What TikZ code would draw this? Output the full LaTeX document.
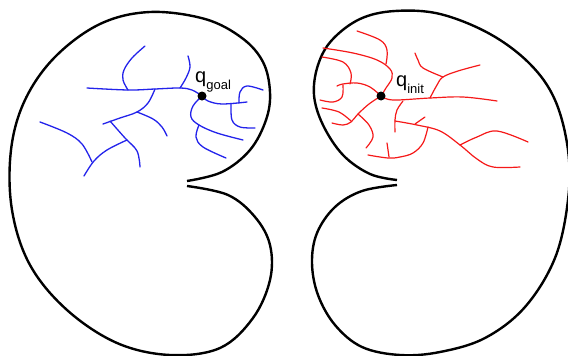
\documentclass[tikz,border=0pt]{standalone}
\usepackage{fontspec}
\setmainfont{Liberation Sans}
\definecolor{treeblue}{RGB}{35,35,235}
\definecolor{treered}{RGB}{245,25,25}
\begin{document}
\begin{tikzpicture}[x=1pt,y=-1pt,
  outline/.style={line width=2.4pt, black, line join=round},
  bluebr/.style={line width=1.3pt, treeblue, line cap=round},
  redbr/.style={line width=1.2pt, treered, line cap=round},
  qdot/.style={circle, fill=black, inner sep=0pt, minimum size=9pt},
  qlabel/.style={anchor=base west, inner sep=0pt, font=\fontsize{20}{20}\selectfont}]
\useasboundingbox (0,0) rectangle (568,356);
\clip (0,0) rectangle (568,356);
% left region
\draw[outline] plot[smooth, tension=0.6] coordinates {(187,181) (222,172) (250,150) (266,120) (270,92) (263,62) (242,38) (205,19) (150,12) (100,24) (55,57) (25,100) (11,150) (12,210) (30,265) (67,310) (117,343) (170,355) (220,348) (253,318) (270,280) (270,245) (255,217) (228,195) (187,186)};
% right region
\draw[outline] plot[smooth, tension=0.6] coordinates {(397,180) (370,174) (343,155) (323,125) (314,95) (318,65) (332,40) (360,19) (395,11) (440,14) (490,34) (530,64) (555,100) (568,150) (568,200) (555,258) (525,307) (485,338) (440,352) (400,355) (362,347) (335,325) (318,295) (312,263) (317,233) (335,207) (362,191) (397,185)};
% blue tree
\draw[bluebr] plot[smooth, tension=0.6] coordinates {(87,88) (128,90) (155,89) (180,88) (192,90) (202,96)};
\draw[bluebr] plot[smooth, tension=0.6] coordinates {(128,90) (123,80) (124,70) (132,58) (145,46)};
\draw[bluebr] plot[smooth, tension=0.6] coordinates {(180,88) (186,78) (190,67) (188,56)};
\draw[bluebr] plot[smooth, tension=0.6] coordinates {(155,89) (148,103) (137,112) (120,118) (103,124)};
\draw[bluebr] plot[smooth, tension=0.6] coordinates {(137,112) (153,119) (162,127) (167,136)};
\draw[bluebr] plot[smooth, tension=0.6] coordinates {(110,121) (125,138) (137,151) (140,167)};
\draw[bluebr] plot[smooth, tension=0.6] coordinates {(127,140) (107,150) (94,161) (84,176)};
\draw[bluebr] plot[smooth, tension=0.6] coordinates {(40,122) (67,133) (82,144) (92,162)};
\draw[bluebr] plot[smooth, tension=0.6] coordinates {(202,96) (208,101) (222,104) (247,102)};
\draw[bluebr] plot[smooth, tension=0.6] coordinates {(239,103) (240,92) (247,86) (263,90)};
\draw[bluebr] plot[smooth, tension=0.6] coordinates {(231,104) (232,120) (240,127) (255,128)};
\draw[bluebr] plot[smooth, tension=0.6] coordinates {(202,96) (193,106) (191,117) (199,125) (217,133) (243,140)};
\draw[bluebr] plot[smooth, tension=0.6] coordinates {(199,125) (196,137) (203,147) (226,158)};
% red tree
\draw[redbr] plot[smooth, tension=0.6] coordinates {(381,96) (393,100) (430,98) (463,97) (497,101)};
\draw[redbr] plot[smooth, tension=0.6] coordinates {(430,98) (437,85) (443,77) (458,71) (480,65)};
\draw[redbr] plot[smooth, tension=0.6] coordinates {(443,77) (423,68) (418,60) (415,53)};
\draw[redbr] plot[smooth, tension=0.6] coordinates {(381,96) (386,88) (392,78) (390,69) (377,60) (353,53) (323,48)};
\draw[redbr] plot[smooth, tension=0.6] coordinates {(357,31) (380,40) (387,50) (386,64)};
\draw[redbr] plot[smooth, tension=0.6] coordinates {(322,57) (343,62) (351,73) (350,84)};
\draw[redbr] plot[smooth, tension=0.6] coordinates {(381,96) (370,87) (357,83) (343,84) (337,86)};
\draw[redbr] plot[smooth, tension=0.6] coordinates {(343,85) (342,97) (333,102) (320,100)};
\draw[redbr] plot[smooth, tension=0.6] coordinates {(381,96) (369,104) (358,114) (351,122) (343,125) (332,123)};
\draw[redbr] plot[smooth, tension=0.6] coordinates {(322,108) (339,112) (351,121)};
\draw[redbr] plot[smooth, tension=0.6] coordinates {(358,114) (369,125) (373,137) (366,148)};
\draw[redbr] plot[smooth, tension=0.6] coordinates {(403,101) (397,110) (395,120) (395,132)};
\draw[redbr] plot[smooth, tension=0.6] coordinates {(395,121) (417,125) (440,131) (460,145) (477,159) (493,167) (520,167)};
\draw[redbr] (415,124) -- (425,117);
\draw[redbr] plot[smooth, tension=0.6] coordinates {(460,145) (477,137) (497,131) (528,142)};
\draw[redbr] plot[smooth, tension=0.6] coordinates {(428,127) (423,143) (413,153) (400,157) (388,158) (368,155)};
\draw[redbr] (387,143) -- (389,157);
% configurations
\node[qdot] (goal) at (202,96) {};
\node[qdot] (init) at (381,96) {};
\node[qlabel] (goallabel) at (195,82) {q\raisebox{-7pt}{\fontsize{13}{13}\selectfont goal}};
\node[qlabel] (initlabel) at (396,86) {q\raisebox{-7pt}{\fontsize{13}{13}\selectfont init}};
\end{tikzpicture}
\end{document}
